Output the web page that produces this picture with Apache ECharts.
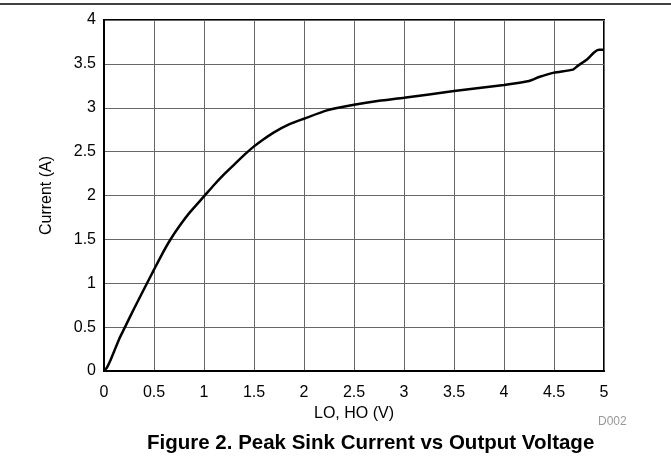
<!DOCTYPE html>
<html>
<head>
<meta charset="utf-8">
<script src="https://cdn.jsdelivr.net/npm/echarts@6/dist/echarts.min.js"></script>
<style>html,body{margin:0;padding:0;background:#fff}#c{width:671px;height:466px}</style>
</head>
<body>
<div id="c"></div>
<script>
const voltage = [0, 0.03, 0.06, 0.1, 0.15, 0.21, 0.3, 0.43, 0.5, 0.58, 0.66, 0.76, 0.86, 1.0, 1.1, 1.2, 1.3, 1.4, 1.5, 1.6, 1.7, 1.85, 2.0, 2.23, 2.5, 2.75, 3.0, 3.5, 4.0, 4.25, 4.35, 4.5, 4.69, 4.74, 4.83, 4.9, 4.95, 5.0];
const current = [0, 0.04, 0.11, 0.22, 0.36, 0.5, 0.71, 1.0, 1.155, 1.33, 1.49, 1.66, 1.81, 1.99, 2.12, 2.24, 2.35, 2.46, 2.56, 2.645, 2.72, 2.81, 2.875, 2.97, 3.034, 3.08, 3.114, 3.19, 3.26, 3.305, 3.35, 3.4, 3.435, 3.48, 3.55, 3.63, 3.66, 3.66];
const xTicks = [0, 0.5, 1, 1.5, 2, 2.5, 3, 3.5, 4, 4.5, 5];
const yTicks = [0, 0.5, 1, 1.5, 2, 2.5, 3, 3.5, 4];
const xName = 'LO, HO (V)';
const yName = 'Current (A)';
const titleText = 'Figure 2. Peak Sink Current vs Output Voltage';
const codeText = 'D002';

const chart = echarts.init(document.getElementById('c'), null, {renderer: 'canvas'});
const font = 'Liberation Sans, Arial, sans-serif';
chart.setOption({
  animation: false,
  backgroundColor: '#fff',
  grid: {left: 104, right: 67, top: 20, bottom: 95, show: true, borderColor: '#000', borderWidth: 2, backgroundColor: 'transparent'},
  xAxis: {
    type: 'value', min: 0, max: 5, interval: 0.5,
    axisLine: {show: true, lineStyle: {color: '#000', width: 2}},
    axisTick: {show: false},
    splitLine: {show: true, lineStyle: {color: '#666', width: 1}},
    axisLabel: {color: '#000', fontSize: 16, fontFamily: font, margin: 14, formatter: v => xTicks.includes(v) ? String(v) : ''},
    name: xName, nameLocation: 'middle', nameGap: 30,
    nameTextStyle: {color: '#000', fontSize: 16, fontFamily: font}
  },
  yAxis: {
    type: 'value', min: 0, max: 4, interval: 0.5,
    axisLine: {show: true, lineStyle: {color: '#000', width: 2}},
    axisTick: {show: false},
    splitLine: {show: true, lineStyle: {color: '#666', width: 1}},
    axisLabel: {color: '#000', fontSize: 16, fontFamily: font, margin: 8, formatter: v => yTicks.includes(v) ? String(v) : ''},
    name: yName, nameLocation: 'middle', nameGap: 49, nameRotate: 90,
    nameTextStyle: {color: '#000', fontSize: 16, fontFamily: font}
  },
  series: [{
    type: 'line',
    data: voltage.map((v, i) => [v, current[i]]),
    showSymbol: false, smooth: 0.2,
    lineStyle: {color: '#000', width: 2.5},
    clip: false
  }],
  graphic: [
    {type: 'line', shape: {x1: 0, y1: 4, x2: 671, y2: 4}, style: {stroke: '#000', lineWidth: 1.5}},
    {type: 'text', left: 598, top: 416, style: {text: codeText, fill: '#999', font: '12px ' + font}},
    {type: 'text', left: 147, top: 433, style: {text: titleText, fill: '#000', font: 'bold 20.5px ' + font}}
  ]
});
</script>
</body>
</html>
